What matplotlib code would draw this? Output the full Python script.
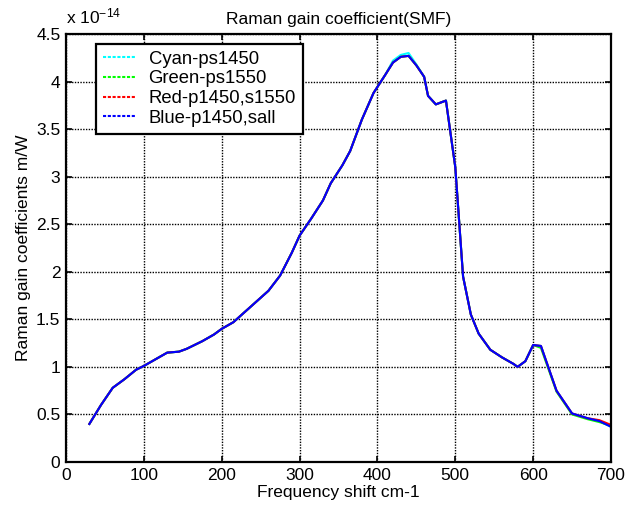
import matplotlib
matplotlib.use("Agg")
import matplotlib.pyplot as plt
from matplotlib.lines import Line2D

plt.rcParams["font.family"] = ["Liberation Sans", "DejaVu Sans"]
plt.rcParams["font.size"] = 12.5
plt.rcParams["mathtext.fontset"] = "custom"
plt.rcParams["mathtext.rm"] = "Liberation Sans"
plt.rcParams["mathtext.default"] = "regular"

# Raman gain coefficient (units of 1e-14 m/W) vs frequency shift (cm-1)
shift = [30, 45, 60, 75, 90, 100, 115, 130, 145, 155, 165, 175, 190, 200,
         215, 230, 245, 260, 275, 290, 300, 315, 330, 340, 355, 365, 380,
         395, 410, 420, 430, 440, 450, 460, 465, 475, 488, 500, 510, 520,
         530, 545, 560, 575, 580, 590, 600, 610, 630, 650, 670, 685, 700]

gain_blue = [0.40, 0.60, 0.78, 0.87, 0.97, 1.01, 1.08, 1.15, 1.16, 1.19,
             1.23, 1.27, 1.34, 1.40, 1.47, 1.58, 1.69, 1.80, 1.96, 2.20,
             2.38, 2.56, 2.75, 2.93, 3.12, 3.27, 3.60, 3.88, 4.07, 4.20,
             4.26, 4.27, 4.17, 4.05, 3.85, 3.76, 3.80, 3.10, 1.95, 1.55,
             1.35, 1.18, 1.10, 1.03, 1.00, 1.06, 1.23, 1.22, 0.75, 0.51,
             0.46, 0.43, 0.37]
gain_cyan = gain_blue[:29] + [4.22, 4.28, 4.30, 4.18] + gain_blue[33:]
gain_green = gain_blue[:47] + [1.20, 0.74, 0.50, 0.45, 0.42, 0.38]
gain_red = gain_blue[:50] + [0.46, 0.44, 0.39]

series = [
    ("Cyan-ps1450", gain_cyan, "cyan"),
    ("Green-ps1550", gain_green, "lime"),
    ("Red-p1450,s1550", gain_red, "red"),
    ("Blue-p1450,sall", gain_blue, "blue"),
]

fig = plt.figure(figsize=(6.39, 5.16), dpi=100)
ax = fig.add_axes([66 / 639, 54 / 516, 545 / 639, 428 / 516])

for label, gain, color in series:
    ax.plot(shift, gain, color=color, lw=1.5)

ax.set_xlim(0, 700)
ax.set_ylim(0, 4.5)
ax.set_xticks(range(0, 701, 100))
ax.set_yticks([i * 0.5 for i in range(10)])
ax.set_yticklabels(["0", "0.5", "1", "1.5", "2", "2.5", "3", "3.5", "4", "4.5"])
ax.grid(True, color="black", linestyle=(0, (1, 1)), linewidth=1.0)
ax.tick_params(direction="in", top=True, right=True, length=4, width=1.2,
               colors="black", pad=4)
for sp in ax.spines.values():
    sp.set_linewidth(1.6)

ax.set_title("Raman gain coefficient(SMF)", fontsize=12.5, pad=7)
ax.set_xlabel("Frequency shift cm-1", labelpad=2)
ax.set_ylabel("Raman gain coefficients m/W", labelpad=4)
ax.text(0.0, 1.018, r"x 10$^{-14}$", transform=ax.transAxes, fontsize=12.5,
        ha="left", va="bottom")

handles = [Line2D([], [], color=c, lw=1.5, linestyle=(0, (1.5, 0.8)))
           for _, _, c in series]
leg = ax.legend(handles, [s[0] for s in series], loc="upper left",
                bbox_to_anchor=(0.055, 0.977), fancybox=False,
                edgecolor="black", framealpha=1, handlelength=1.8,
                handletextpad=0.67, borderpad=0.38, labelspacing=0.14,
                borderaxespad=0, fontsize=13.3)
leg.get_frame().set_linewidth(1.6)

fig.savefig("out.png", dpi=100, facecolor="white")
